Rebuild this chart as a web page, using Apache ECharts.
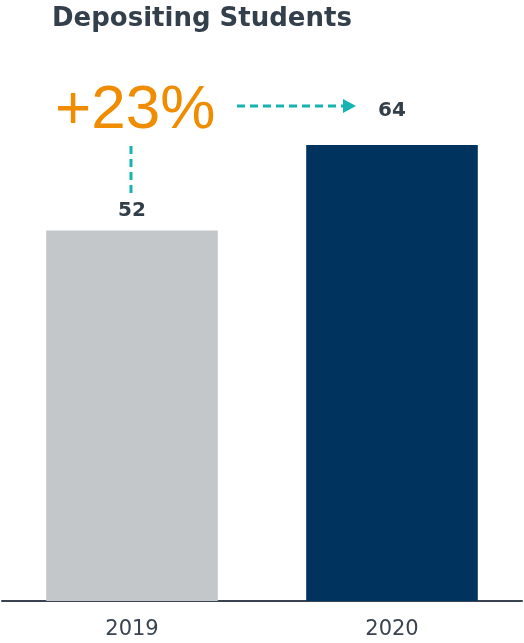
<!DOCTYPE html>
<html><head><meta charset="utf-8">
<script src="https://cdn.jsdelivr.net/npm/echarts@6/dist/echarts.min.js"></script>
<style>html,body{margin:0;padding:0;background:#fff}#c{width:524px;height:643px}</style>
</head><body><div id="c"></div>
<script>
const categories = ['2019', '2020'];
const values = [52, 64];
const barColors = ['#c4c7ca', '#00345e'];
const labelDistances = [10, 24];
const titleText = 'Depositing Students';
const changeText = '+23%';

const chart = echarts.init(document.getElementById('c'));
const option = {
  animation: false,
  title: {
    text: titleText, left: 52, top: 6, padding: 0,
    textStyle: {fontFamily: 'DejaVu Sans', fontWeight: 'bold', fontSize: 26, color: '#333f4b'}
  },
  grid: {left: 2, right: 2, top: 31, bottom: 42, containLabel: false},
  xAxis: {
    type: 'category', data: categories,
    axisLine: {lineStyle: {color: '#3a4450', width: 2}},
    axisTick: {show: false},
    axisLabel: {fontFamily: 'DejaVu Sans', fontSize: 21, color: '#3a4450', margin: 18}
  },
  yAxis: {type: 'value', min: 0, max: 80, show: false, splitLine: {show: false}},
  series: [{
    type: 'bar', barWidth: '66%',
    data: values.map((v, i) => ({
      value: v,
      itemStyle: {color: barColors[i]},
      label: {show: true, position: 'top', distance: labelDistances[i],
        fontFamily: 'DejaVu Sans', fontWeight: 'bold', fontSize: 20, color: '#333f48'}
    }))
  }]
};
chart.setOption(option);

const p0 = chart.convertToPixel({seriesIndex: 0}, [0, values[0]]);
const teal = '#17b3b3';
chart.setOption({
  graphic: [
    {type: 'text', left: 55, top: 80, style: {text: changeText, font: '62px "Liberation Sans"', fill: '#ef8c00'}},
    {type: 'line', shape: {x1: p0[0] - 1, y1: 146, x2: p0[0] - 1, y2: 194}, style: {stroke: teal, lineWidth: 3, lineDash: [8, 5]}},
    {type: 'line', shape: {x1: 237, y1: 106, x2: 344, y2: 106}, style: {stroke: teal, lineWidth: 3, lineDash: [8, 5]}},
    {type: 'polygon', shape: {points: [[343, 99], [356, 106], [343, 113]]}, style: {fill: teal}}
  ]
});
</script></body></html>
